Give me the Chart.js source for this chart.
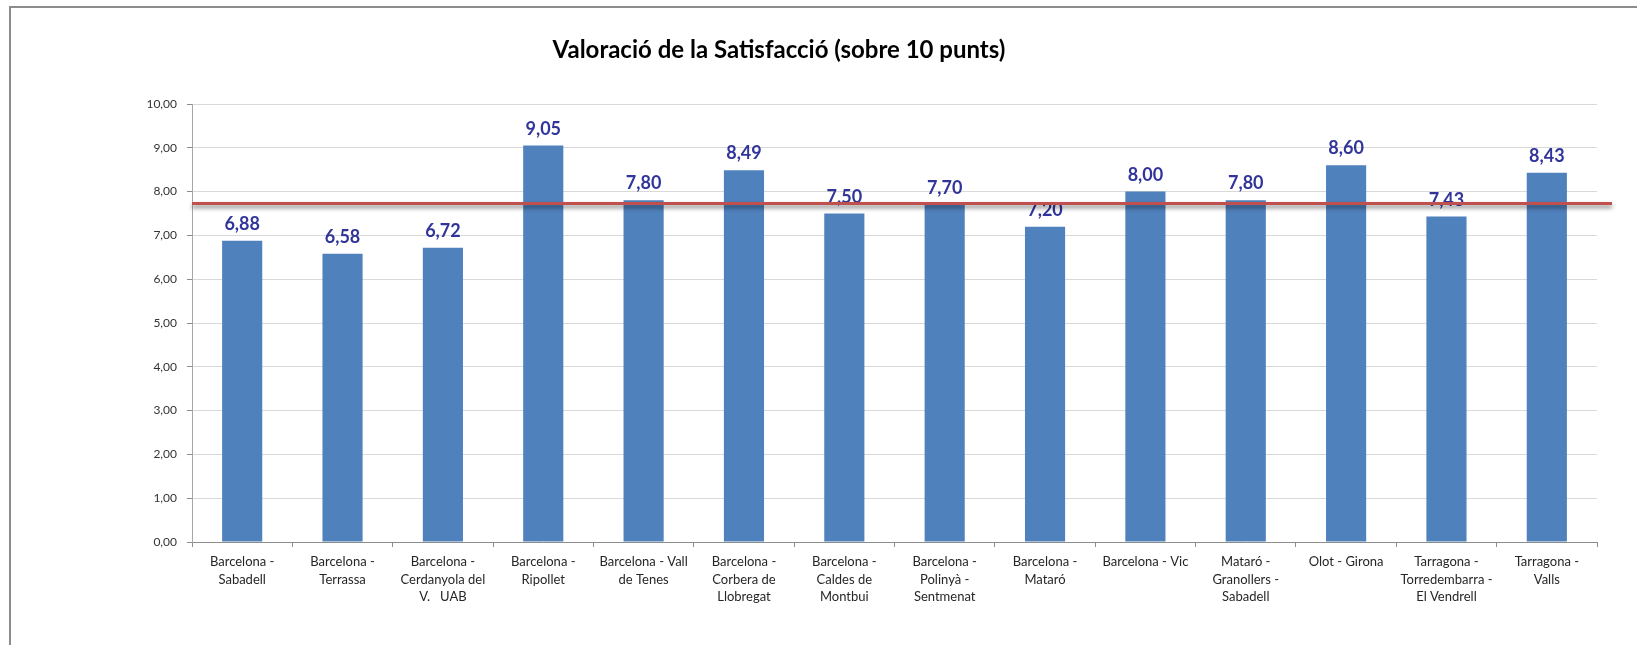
<!DOCTYPE html>
<html>
<head>
<meta charset="utf-8">
<title>Valoració de la Satisfacció</title>
<script src="https://cdn.jsdelivr.net/npm/chart.js@4.4.0/dist/chart.umd.min.js"></script>
<style>
  html, body { margin: 0; padding: 0; background: #fff; overflow: hidden; }
  #frame {
    position: absolute; left: 9px; top: 6px; width: 1700px; height: 700px;
    border-top: 2px solid #8c8c8c; border-left: 2px solid #8c8c8c;
  }
  #myChart { position: absolute; left: 0; top: 0; }
</style>
</head>
<body>
<div id="frame"></div>
<canvas id="myChart" width="1637" height="645"></canvas>
<script>
const chartTitle = "Valoració de la Satisfacció (sobre 10 punts)";

const categories = [
  ["Barcelona -", "Sabadell"],
  ["Barcelona -", "Terrassa"],
  ["Barcelona -", "Cerdanyola del", "V.   UAB"],
  ["Barcelona -", "Ripollet"],
  ["Barcelona - Vall", "de Tenes"],
  ["Barcelona -", "Corbera de", "Llobregat"],
  ["Barcelona -", "Caldes de", "Montbui"],
  ["Barcelona -", "Polinyà -", "Sentmenat"],
  ["Barcelona -", "Mataró"],
  ["Barcelona - Vic"],
  ["Mataró -", "Granollers -", "Sabadell"],
  ["Olot - Girona"],
  ["Tarragona -", "Torredembarra -", "El Vendrell"],
  ["Tarragona -", "Valls"],
];

const satisfaction = [6.88, 6.58, 6.72, 9.05, 7.80, 8.49, 7.50, 7.70, 7.20, 8.00, 7.80, 8.60, 7.43, 8.43];

// red reference line (mitjana)
const averageLine = 7.73;

const yTicks = [0, 1, 2, 3, 4, 5, 6, 7, 8, 9, 10];

const fmt = (v) => v.toFixed(2).replace(".", ",");

const titlePlugin = {
  id: "titleText",
  afterDraw(chart) {
    const c = chart.ctx;
    c.save();
    c.font = "bold 24px Lato";
    c.fillStyle = "#000";
    c.textAlign = "center";
    c.textBaseline = "middle";
    c.fillText(chartTitle, 779, 50);
    c.restore();
  },
};

const valueLabels = {
  id: "valueLabels",
  afterDatasetsDraw(chart) {
    const c = chart.ctx;
    const meta = chart.getDatasetMeta(0);
    c.save();
    c.font = "bold 18px Lato";
    c.fillStyle = "#31359a";
    c.textAlign = "center";
    c.textBaseline = "alphabetic";
    meta.data.forEach((bar, i) => {
      c.fillText(fmt(satisfaction[i]), bar.x, bar.y - 11);
    });
    c.restore();
  },
};

const avgLine = {
  id: "avgLine",
  afterDraw(chart) {
    const c = chart.ctx;
    const area = chart.chartArea;
    const y = chart.scales.y.getPixelForValue(averageLine);
    c.save();
    c.strokeStyle = "#c0504d";
    c.lineWidth = 3;
    c.shadowColor = "rgba(0,0,0,0.5)";
    c.shadowBlur = 4;
    c.shadowOffsetY = 3;
    c.beginPath();
    c.moveTo(area.left, y);
    c.lineTo(area.right + 15, y);
    c.stroke();
    c.restore();
  },
};

let curChart = null;

const init = () => {
  const ctx = document.getElementById("myChart").getContext("2d");

  curChart = new Chart(ctx, {
    type: "bar",
    data: {
      labels: categories,
      datasets: [{
        data: satisfaction,
        backgroundColor: "#4f81bd",
        borderWidth: 0,
        barPercentage: 0.4,
        categoryPercentage: 1,
      }],
    },
    options: {
      responsive: false,
      animation: false,
      layout: { padding: { top: 104, right: 40, left: 0, bottom: 0 } },
      plugins: {
        legend: { display: false },
        tooltip: { enabled: false },
        title: { display: false },
      },
      scales: {
        x: {
          grid: { drawOnChartArea: false, tickLength: 5, color: "#8c8c8c" },
          border: { color: "#8c8c8c" },
          ticks: {
            autoSkip: false, maxRotation: 0, minRotation: 0, padding: 6,
            color: "#262626",
            font: { family: "Lato", size: 13, lineHeight: 1.36 },
          },
          afterFit: (s) => { s.height = 103; },
        },
        y: {
          min: 0,
          max: 10,
          afterBuildTicks: (s) => { s.ticks = yTicks.map((v) => ({ value: v })); },
          grid: { color: "#d9d9d9", tickLength: 5, tickColor: "#8c8c8c" },
          border: { color: "#a6a6a6" },
          ticks: {
            padding: 10,
            color: "#333",
            font: { family: "Lato", size: 12 },
            callback: (v) => fmt(v),
          },
          afterFit: (s) => { s.width = 192; },
        },
      },
    },
    plugins: [valueLabels, avgLine, titlePlugin],
  });
};

window.addEventListener("load", init);
</script>
</body>
</html>
